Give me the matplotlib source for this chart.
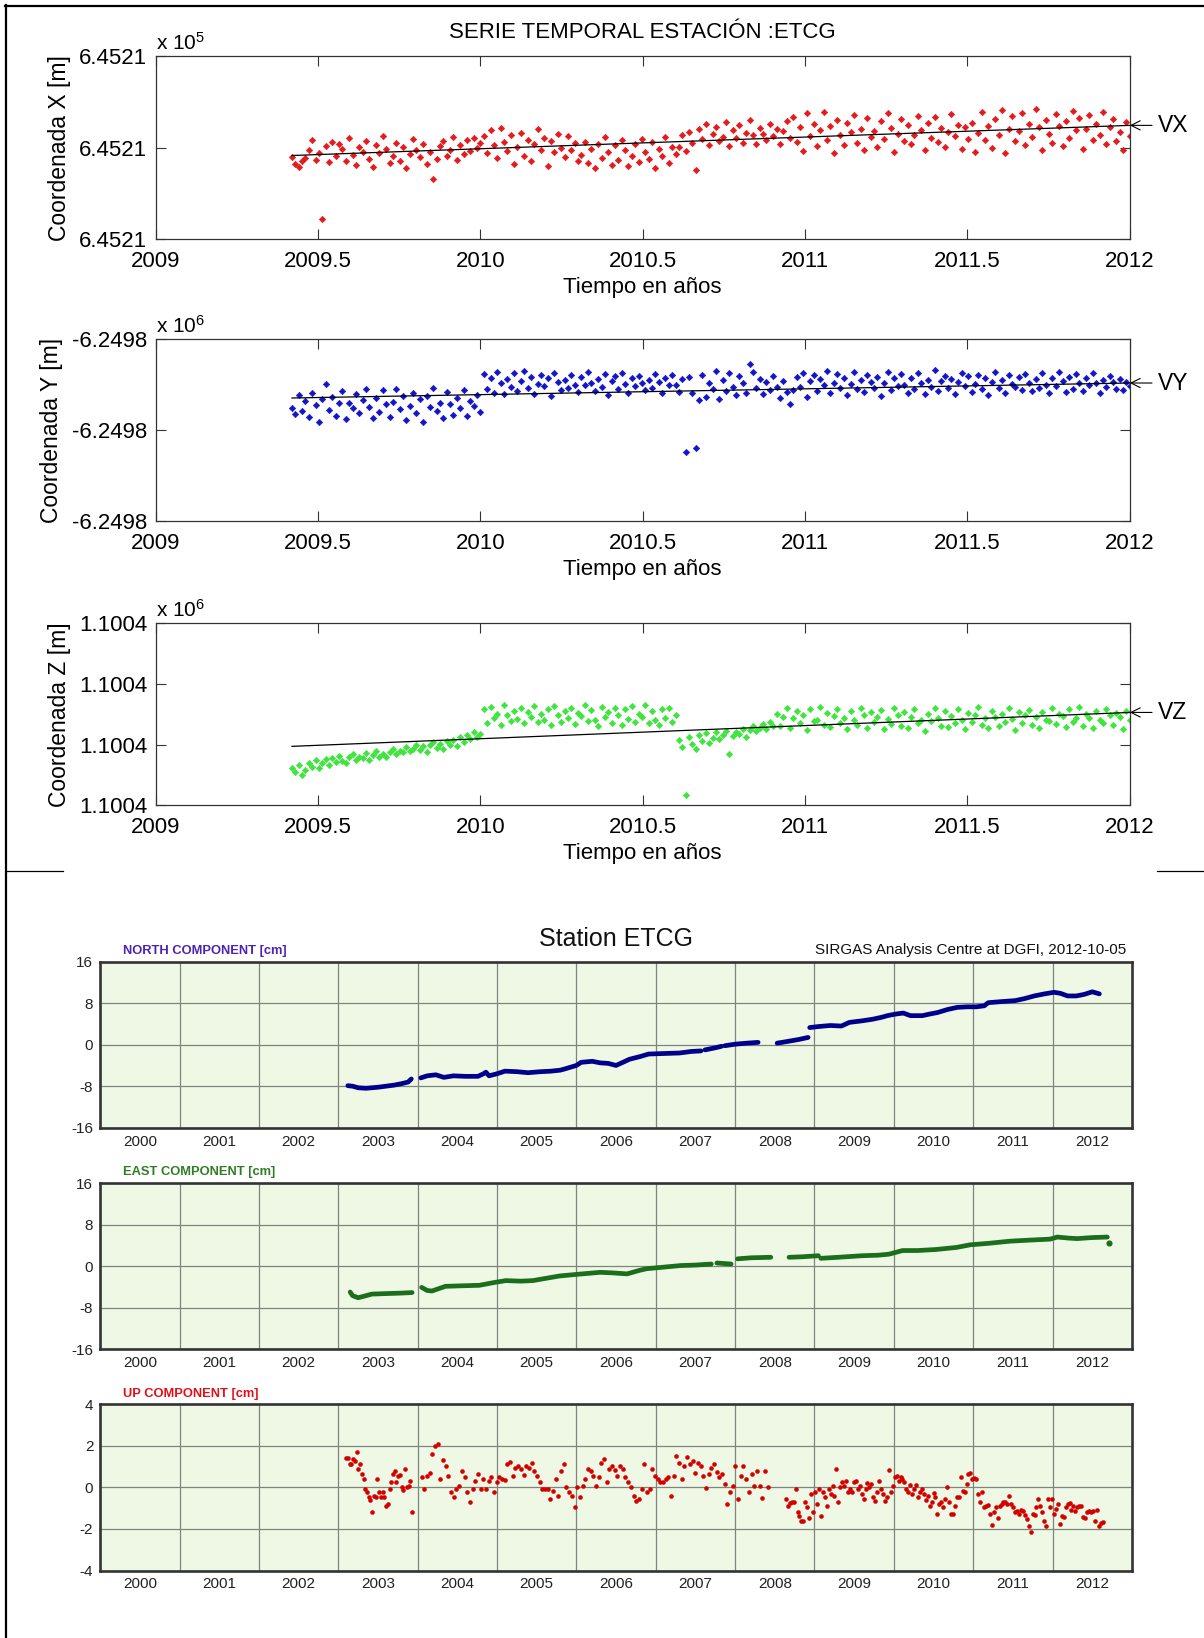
import numpy as np
import matplotlib
matplotlib.use('Agg')
import matplotlib.pyplot as plt
from matplotlib.lines import Line2D

plt.rcParams['font.family'] = ['Liberation Sans', 'DejaVu Sans']
plt.rcParams['mathtext.fontset'] = 'custom'
plt.rcParams['mathtext.rm'] = 'Liberation Sans'
plt.rcParams['mathtext.it'] = 'Liberation Sans:italic'
plt.rcParams['mathtext.bf'] = 'Liberation Sans:bold'

# ----------------------------------------------------------------- DATA
# Top (MATLAB) panels: daily coordinates 2009.42 - 2012.0, offsets from the
# central tick value (units of the plotted scale)
top_span = (2009.42, 2012.0)
top_xticks = [2009, 2009.5, 2010, 2010.5, 2011, 2011.5, 2012]
top_xticklabels = ['2009', '2009.5', '2010', '2010.5', '2011', '2011.5', '2012']

coordX_2009 = [-2.0, -3.5, -4.3, -3.0, -2.2,
               -0.5, 1.8, -2.6, -1.2, -15.7, 0.4, -3.1, 1.2, -1.8, 0.9, -0.3, -2.9, 2.2,
               -1.5, -3.8, 0.2, -0.9, 1.5, -2.4, -4.2, 0.6, -1.1, 2.6, -0.2, -3.3, -1.7,
               1.0, -2.8, 0.1, -4.5, -1.3, 1.9, -0.6, -2.1, 0.8, -3.6, -1.0, -6.9, -2.5,
               0.3, 1.4, -1.9, -0.4, 2.3, -2.7, 0.5, -1.4, 1.6, -0.8, 2.1, -0.1, 1.1]
coordX_2010 = [2.5, -1.2, 3.8, 0.6, -2.3, 4.4, 1.3, -0.8, 2.9, -3.5, 0.2, 3.3, -1.7, 1.8,
               -2.8, 0.9, 4.0, -0.4, 2.2, -3.9, 1.5, -1.0, 3.1, 0.0, -2.1, 2.6, -0.6, 1.1, -3.0,
               -1.5, 1.2, -3.4, -0.2, -4.4, 0.8, -2.2, 2.3, -1.0, -3.8, 0.5, -2.7, 1.6, -0.5,
               -4.1, -1.8, 0.9, -3.1, 2.0, -0.9, -2.5, 1.3, -4.5, -0.3, -1.9, 2.4, -3.3, 0.1, -1.3,
               0.2, 2.8, -0.8, 3.5, 1.1, -4.8, 4.2, 2.0, 5.1, 0.6, 3.0, 4.6, 1.5, 2.4, 5.6, 0.3,
               3.8, 2.2, 4.9, 1.0, 3.3, 6.0, 2.7, 0.8, 4.4, 3.1, 1.7, 5.3, 2.5, 4.0, 0.9, 3.6, 5.8, 2.1]
coordX_2011 = [6.8, 1.2, 4.5, -0.8, 7.5, 2.6, 5.2, 0.3, 3.9, 7.9, 1.8, 4.8, -1.2, 6.1, 2.9,
               0.6, 5.5, 3.4, 7.2, 1.0, 4.1, -0.4, 6.5, 2.3, 3.7, 0.1, 5.9, 2.0, 7.7, 4.4,
               -1.0, 3.1, 6.3, 1.5, 4.9, 0.8, 2.7, 7.0, 3.8, -0.6, 5.4, 2.2, 6.8, 1.3, 4.3,
               0.2, 3.5, 7.4, 2.5, 5.0, -0.2, 4.6, 1.9,
               5.5, -0.9, 3.2, 7.8, 1.6, 4.7, 0.0, 6.4, 2.8, 8.2, -1.1, 4.0, 6.9, 1.4, 3.6,
               7.6, 0.5, 5.1, 2.4, 8.4, 4.5, -0.5, 6.1, 3.0, 1.1, 7.3, 4.8, 0.4, 5.8, 2.1,
               8.0, 3.9, 6.6, -0.3, 4.2, 7.1, 1.8, 5.3, 2.9, 7.9, 0.9, 4.6, 6.3, 1.5, 3.4, -0.6, 5.7, 2.6]
fitX = [-1.7, 4.9]

coordY_2009 = [5.0, 3.5, 7.8, 4.2, 6.5, 2.9, 8.3, 5.6, 1.8, 6.9, 10.2, 4.4, 7.4, 3.2, 5.9,
               8.6, 2.4, 6.1, 4.8, 7.9, 3.7, 6.6, 9.0, 5.2, 2.7, 7.1, 4.0, 8.8, 5.7, 3.0,
               6.3, 9.1, 4.6, 7.5, 2.2, 5.4, 8.1, 3.9, 6.8, 1.9, 7.6, 5.1, 9.4, 4.3, 6.0,
               2.6, 8.4, 5.8, 3.4, 7.2, 4.9, 8.9, 3.1, 6.4, 5.3, 7.7, 4.1]
coordY_2010 = [12.4, 9.1, 11.6, 8.2, 12.9, 10.3, 7.9, 11.2, 9.6, 12.5, 8.7, 10.9, 13.0, 9.4,
               11.8, 8.0, 10.1, 12.2, 9.8, 11.4, 7.6, 12.7, 10.6, 8.9, 11.0, 9.2, 12.1, 10.0,
               8.4, 11.7, 9.9, 12.8, 10.5, 8.6, 11.3, 9.5, 12.3, 7.8, 10.8, 11.9, 9.0, 12.6,
               10.2, 8.3, 11.5, 9.7, 12.0, 10.4, 8.8, 11.1, 9.3, 12.4, 10.7, 8.1, 11.6, 9.9,
               12.2, 10.0, 8.5, 11.2,
               -4.7, 11.8, 8.2, -3.8, 6.6, 12.2, 7.4, 10.3, 9.0, 13.1, 6.9, 11.0, 8.7, 12.5,
               9.6, 7.7, 11.9, 10.4, 8.3, 14.6, 12.8, 9.2, 11.3, 7.9, 10.6, 8.8, 12.0, 9.5,
               7.2, 10.9, 8.5, 5.8]
coordY_2011 = [8.9, 11.7, 9.6, 12.6, 7.4, 10.8, 12.1, 8.6, 11.2, 9.9, 13.0, 8.1, 10.5, 12.4,
               9.3, 11.5, 7.8, 10.1, 12.8, 9.0, 11.0, 8.4, 12.2, 10.6, 9.4, 11.8, 7.6, 10.3,
               12.9, 8.8, 11.4, 9.7, 12.3, 10.0, 8.2, 11.6, 9.1, 12.7, 10.4, 7.9, 11.1, 9.5,
               13.2, 8.7, 10.9, 12.0, 9.2, 11.3, 8.0, 10.7, 12.5, 9.8, 11.9, 8.5, 10.2, 12.2,
               9.0, 11.5, 7.7, 10.6, 12.8, 9.4, 11.0, 8.3, 12.1, 10.1, 9.6, 11.7, 8.9, 12.4,
               10.5, 8.6, 11.2, 9.3, 12.6, 10.0, 8.1, 11.4, 9.7, 12.9, 10.8, 8.4, 11.8, 9.1,
               12.3, 10.3, 8.7, 11.6, 9.9, 12.7, 10.4, 8.2, 11.1, 9.5, 12.0, 10.7, 9.0, 11.3,
               8.8, 10.6, 9.8]
fitY = [7.1, 10.4]

coordZ_2009 = [6.2, 5.4, 6.6, 5.0, 5.8, 6.9, 6.3, 7.4, 6.1, 7.0, 7.6, 6.6, 7.8, 7.1, 8.1,
               7.3, 6.9, 7.9, 8.4, 7.5, 8.0, 7.7, 8.6, 7.4, 8.2, 8.9, 8.0, 8.5, 7.9, 8.8,
               9.3, 8.4, 9.0, 8.7, 9.6, 8.9, 9.2, 10.0, 9.1, 9.7, 8.8, 9.9, 10.4, 9.5, 10.1,
               9.3, 10.6, 10.0, 10.8, 9.8, 11.2, 10.5, 11.6, 10.9, 12.1, 11.3, 11.8]
coordZ_2010 = [15.8, 13.6, 16.2, 14.4, 15.1, 13.2, 16.5, 14.8, 13.9, 15.6, 14.2, 16.0, 13.5,
               15.3, 14.6, 16.4, 13.8, 15.0, 14.1, 15.9, 13.3, 16.3, 14.9, 13.7, 15.5, 14.3,
               16.1, 13.4, 15.2, 14.7, 16.6, 13.9, 15.7, 14.0, 13.1, 16.2, 14.5, 15.4, 13.6,
               16.0, 14.8, 13.3, 15.8, 14.2, 16.4, 13.7, 15.1, 14.6, 16.5, 13.5, 15.6, 14.0,
               13.2, 15.9, 14.4, 16.1, 13.8, 14.9,
               10.8, 9.6, 1.6, 11.2, 10.1, 9.3, 11.5, 10.6, 11.9, 10.3, 11.1, 12.0, 10.9, 11.6,
               12.3, 8.4, 11.4, 12.1, 11.8, 12.6, 11.3, 12.4, 13.0, 12.2, 12.8, 13.4, 12.5,
               13.7, 13.1]
coordZ_2011 = [15.0, 13.1, 14.6, 16.0, 12.8, 14.3, 15.5, 13.6, 14.9, 12.4, 15.8, 13.9, 14.1,
               16.2, 13.3, 15.2, 12.9, 14.7, 15.9, 13.5, 14.4, 12.6, 15.6, 14.0, 13.2, 16.1,
               14.8, 12.7, 15.3, 13.8, 14.5, 15.7, 12.5, 14.2, 13.4, 16.0, 14.9, 13.0, 15.4,
               12.8, 14.6, 15.8, 13.6, 14.1, 12.3, 15.1, 13.9, 16.1, 14.4, 13.1, 15.5, 12.9,
               14.7, 13.5, 15.9, 14.0, 12.6, 15.2, 13.7, 14.8, 16.2, 13.3, 14.3, 12.8, 15.6,
               14.5, 13.0, 15.0, 13.8, 16.0, 14.2, 12.4, 15.4, 13.6, 14.9, 15.7, 13.2, 14.6,
               12.7, 15.3, 14.1, 13.9, 16.1, 13.4, 15.1, 14.7, 12.9, 15.8, 13.7, 14.4, 16.2,
               13.1, 15.0, 14.3, 12.8, 15.5, 14.0, 13.5, 15.9, 14.8, 13.3, 15.2, 14.5, 12.6,
               15.6, 14.1]
fitZ = [9.7, 15.3]

# Bottom (DGFI) panels, weekly solutions [cm]
dgfi_years = [2000, 2001, 2002, 2003, 2004, 2005, 2006, 2007, 2008, 2009, 2010, 2011, 2012]
dgfi_grid = [2000.5, 2001.5, 2002.5, 2003.5, 2004.5, 2005.5, 2006.5, 2007.5, 2008.5,
             2009.5, 2010.5, 2011.5]

north_t = [[2002.62, 2002.68, 2002.75, 2002.85, 2003.00, 2003.10, 2003.20, 2003.30, 2003.38, 2003.42],
           [2003.54, 2003.62, 2003.73, 2003.83, 2003.95, 2004.10, 2004.26, 2004.33, 2004.36, 2004.40,
            2004.50, 2004.60, 2004.75, 2004.89, 2005.05, 2005.18, 2005.30, 2005.37, 2005.50, 2005.56,
            2005.70, 2005.80, 2005.90, 2006.00, 2006.10, 2006.17, 2006.30, 2006.41, 2006.60, 2006.80,
            2006.95, 2007.07],
           [2007.12, 2007.25, 2007.33],
           [2007.37, 2007.50, 2007.65, 2007.79],
           [2008.03, 2008.15, 2008.30, 2008.42],
           [2008.44, 2008.55, 2008.70, 2008.84, 2008.94, 2009.10, 2009.23, 2009.35, 2009.42, 2009.52,
            2009.62, 2009.71, 2009.86, 2009.95, 2010.05, 2010.18, 2010.30, 2010.42, 2010.54, 2010.64,
            2010.69, 2010.85, 2011.03, 2011.15, 2011.27, 2011.40, 2011.52, 2011.60, 2011.69, 2011.80,
            2011.90, 2012.00, 2012.09]]
north_v = [[-7.9, -8.0, -8.3, -8.4, -8.2, -8.0, -7.8, -7.5, -7.2, -6.6],
           [-6.4, -6.0, -5.8, -6.3, -6.0, -6.1, -6.1, -5.6, -5.3, -6.0, -5.6, -5.1, -5.2, -5.4,
            -5.2, -5.1, -4.9, -4.6, -4.0, -3.4, -3.2, -3.5, -3.6, -4.0, -3.3, -2.8, -2.3, -1.8,
            -1.7, -1.6, -1.3, -1.2],
           [-1.0, -0.6, -0.3],
           [-0.2, 0.1, 0.3, 0.45],
           [0.3, 0.6, 1.0, 1.4],
           [3.3, 3.5, 3.7, 3.6, 4.3, 4.6, 4.9, 5.3, 5.6, 5.9, 6.1, 5.6, 5.6, 5.9, 6.2, 6.8, 7.2,
            7.3, 7.3, 7.5, 8.1, 8.3, 8.5, 8.9, 9.4, 9.8, 10.1, 9.9, 9.4, 9.4, 9.7, 10.2, 9.8]]

east_t = [[2002.65, 2002.68, 2002.75, 2002.85, 2002.92, 2003.10, 2003.30, 2003.43],
          [2003.55, 2003.62, 2003.68, 2003.85, 2004.05, 2004.28, 2004.45, 2004.61, 2004.80, 2004.95,
           2005.10, 2005.29, 2005.50, 2005.80, 2005.95, 2006.14, 2006.30, 2006.39, 2006.60, 2006.81,
           2007.00, 2007.20],
          [2007.27, 2007.36, 2007.45],
          [2007.53, 2007.70, 2007.95],
          [2008.18, 2008.35, 2008.55],
          [2008.58, 2008.80, 2009.10, 2009.30, 2009.44, 2009.61, 2009.80, 2010.03, 2010.29, 2010.46,
           2010.70, 2010.96, 2011.20, 2011.47, 2011.56, 2011.70, 2011.81, 2012.00, 2012.19],
          [2012.21]]
east_v = [[-5.0, -5.7, -6.1, -5.7, -5.4, -5.3, -5.2, -5.1],
          [-4.1, -4.7, -4.8, -3.9, -3.8, -3.7, -3.2, -2.8, -2.9, -2.8, -2.4, -1.9, -1.6, -1.2,
           -1.3, -1.5, -0.8, -0.5, -0.2, 0.1, 0.2, 0.4],
          [0.6, 0.5, 0.4],
          [1.4, 1.6, 1.7],
          [1.7, 1.8, 2.0],
          [1.5, 1.7, 2.0, 2.1, 2.3, 3.0, 3.0, 3.2, 3.6, 4.1, 4.4, 4.8, 5.0, 5.2, 5.6, 5.4, 5.3,
           5.5, 5.6],
          [4.5]]

up_spans = [(2002.60, 2003.43), (2003.55, 2007.91), (2008.14, 2012.13)]
up_seg1 = [1.44, 1.44, 1.12, 1.12, 1.36, 1.25, 1.71, 0.91, 1.12, 0.64, 0.40, -0.08, -0.21,
           -0.48, -0.59, -1.20, -0.40, -0.48, 0.40, -0.21, -0.48, -0.21, -0.48, -0.88, -0.80,
           -0.08, 0.24, 0.64, 0.80, 0.24, 0.53, 0.61, 0.00, -0.11, 0.91, 0.00, 0.08, 0.32, -1.20]
up_seg2 = [0.48, -0.08, 0.53, 0.72, 1.60, 2.00, 2.08, 0.40, 1.31, 1.04, 0.56, -0.24, -0.48,
           -0.08, 0.08, 0.80, 0.48, -0.24, -0.69, -0.08, 0.32, 0.64, -0.08, 0.40, -0.08, 0.32,
           0.48, -0.21, 0.24, 0.48, 0.43, 0.37, 1.12, 1.23, 0.53, 0.96, 1.01, 0.88, 0.59, 1.04,
           0.96, 1.20, 0.80, 0.56, 0.24, -0.08, -0.08, -0.08, -0.56, -0.16, 0.40, -0.40, 0.80,
           1.12, 0.00, -0.24, -0.40, -0.96, 0.00, -0.48, 0.08, 0.40, 0.88, 0.80, 0.53, 0.08,
           0.48, 1.20, 1.36, 0.24, 0.91, 1.04, 0.83, 0.56, 1.01, 0.88, 0.48, 0.24, 0.00, -0.40,
           -0.64, -0.56, -0.08, 1.12, -0.21, -0.08, 0.88, 0.53, 0.40, 0.24, 0.24, 0.40, 0.48,
           -0.40, 0.53, 1.52, 1.20, 0.40, 1.04, 1.49, 1.12, 1.28, 0.72, 1.17, 1.01, 0.53, -0.05,
           0.64, 0.96, 1.12, 0.75, 0.48, 0.64, 0.19, -0.80, -0.24, 0.08, 1.01, -0.56, 0.53,
           1.04, 0.40, -0.21, 0.64, 0.08, 0.80, 0.08, -0.53, 0.80, 0.00]
up_seg3 = [-0.56, -0.88, -0.75, -0.72, -0.69, -0.08, -1.20, -1.36, -1.60, -1.60, -0.69, -0.96,
           -1.49, -0.32, -1.20, -0.24, -0.80, -0.08, -1.36, -0.24, -0.48, -0.88, -0.08, -0.32,
           0.08, -0.40, 0.91, -0.69, 0.00, 0.24, 0.08, 0.32, -0.24, -0.08, -0.24, 0.24, 0.32,
           -0.08, 0.08, -0.32, -0.56, -0.08, 0.21, 0.00, 0.16, -0.48, -0.64, -0.24, 0.32, -0.08,
           -0.32, -0.64, -0.48, 0.85, -0.24, 0.08, 0.48, 0.56, 0.32, 0.48, 0.40, 0.24, -0.08,
           -0.24, 0.11, -0.32, -0.08, 0.11, -0.48, -0.24, -0.08, -0.32, -0.59, -0.40, -0.91,
           -0.72, -0.27, -0.48, -1.28, -0.80, -0.69, -0.96, -0.56, 0.00, -0.72, -1.28, -1.28,
           -0.88, -0.48, -0.48, 0.48, -0.16, -0.24, 0.16, 0.67, 0.72, 0.40, 0.45, 0.40, -0.32,
           -0.72, -0.24, -0.96, -0.88, -0.85, -1.28, -1.81, -1.20, -0.96, -1.49, -0.88, -0.80,
           -0.69, -0.72, -0.80, -0.40, -0.80, -0.96, -1.20, -1.12, -1.28, -1.07, -1.12, -1.33,
           -1.52, -1.84, -2.13, -1.28, -1.33, -0.96, -0.56, -0.88, -1.20, -1.60, -1.87, -0.56,
           -0.96, -0.56, -1.28, -1.04, -0.80, -1.76, -1.36, -1.44, -0.96, -0.80, -0.75, -1.07,
           -0.88, -1.12, -0.96, -0.91, -0.88, -1.44, -1.49, -1.20, -1.12, -1.17, -1.12, -1.60,
           -1.07, -1.84, -1.71, -1.68]

# ----------------------------------------------------------------- FIGURE
W, H = 1204, 1638
fig = plt.figure(figsize=(W / 100, H / 100), dpi=100)
fig.patch.set_facecolor('white')


def rect(l, t, r, b):
    return [l / W, 1 - b / H, (r - l) / W, (b - t) / H]


def fx(x):
    return x / W


def fy(y):
    return 1 - y / H


# ---------------- top MATLAB-like panels
top_panels = [
    dict(top=56.4, bottom=239.1, vals=coordX_2009 + coordX_2010 + coordX_2011, fit=fitX,
         color='#e41a1c', ylim=(-20, 20), yticks=[-20, 0, 20], ytl='6.4521',
         ylabel='Coordenada X [m]', ylab_x=59.5, exp='5', tag='VX'),
    dict(top=339.4, bottom=521.1, vals=coordY_2009 + coordY_2010 + coordY_2011, fit=fitY,
         color='#1414c8', ylim=(-20, 20), yticks=[-20, 0, 20], ytl='-6.2498',
         ylabel='Coordenada Y [m]', ylab_x=52.0, exp='6', tag='VY'),
    dict(top=623.4, bottom=805.1, vals=coordZ_2009 + coordZ_2010 + coordZ_2011, fit=fitZ,
         color='#3fe43f', ylim=(0, 30), yticks=[0, 10, 20, 30], ytl='1.1004',
         ylabel='Coordenada Z [m]', ylab_x=59.5, exp='6', tag='VZ'),
]

L_TOP, R_TOP = 155.6, 1129.8
for p in top_panels:
    ax = fig.add_axes(rect(L_TOP, p['top'], R_TOP, p['bottom']))
    t = np.linspace(top_span[0], top_span[1], len(p['vals']))
    ax.plot(t, p['vals'], linestyle='none', marker='D', ms=3.3, mew=0.4,
            color=p['color'], mec=p['color'])
    ax.plot(list(top_span), p['fit'], color='black', lw=0.9)
    ax.set_xlim(2009, 2012)
    ax.set_ylim(*p['ylim'])
    ax.set_xticks(top_xticks)
    ax.set_xticklabels(top_xticklabels, fontsize=16)
    ax.set_yticks(p['yticks'])
    ax.set_yticklabels([p['ytl']] * len(p['yticks']), fontsize=16)
    ax.tick_params(direction='in', length=7, width=0.8, color='#333333',
                   top=True, right=True, labelcolor='black')
    ax.tick_params(axis='x', pad=8.5)
    ax.tick_params(axis='y', pad=6)
    for s in ax.spines.values():
        s.set_color('#333333')
        s.set_linewidth(0.9)
    ax.annotate(p['tag'], xy=(2012, p['fit'][1]), xycoords='data',
                xytext=(20, 0), textcoords='offset points', va='center', ha='left',
                fontsize=16.5,
                arrowprops=dict(arrowstyle='->', color='black', lw=0.8,
                                shrinkA=2, shrinkB=0),
                annotation_clip=False)
    # exponent label
    fig.text(fx(L_TOP), fy(p['top'] - 7), 'x 10$^{%s}$' % p['exp'], fontsize=15,
             ha='left', va='baseline')
    # x label
    fig.text(fx(642), fy(p['bottom'] + 48), 'Tiempo en años', fontsize=16,
             ha='center', va='center')
    # y label
    fig.text(fx(p['ylab_x']), fy((p['top'] + p['bottom']) / 2), p['ylabel'],
             fontsize=16.5, rotation=90, ha='center', va='center')

fig.text(fx(642), fy(33), 'SERIE TEMPORAL ESTACIÓN :ETCG', fontsize=16,
         ha='center', va='center')

# frame lines of the composed image
fig.add_artist(Line2D([fx(5.7), fx(5.7)], [fy(5), 0], transform=fig.transFigure,
                      color='black', lw=1.6))
fig.add_artist(Line2D([fx(5), 1], [fy(6), fy(6)], transform=fig.transFigure,
                      color='black', lw=1.6))
fig.add_artist(Line2D([fx(5.7), fx(63)], [fy(870.5), fy(870.5)], transform=fig.transFigure,
                      color='black', lw=0.9))
fig.add_artist(Line2D([fx(1157), 1], [fy(870.5), fy(870.5)], transform=fig.transFigure,
                      color='black', lw=0.9))

# ---------------- bottom DGFI-like panels
L_BOT, R_BOT = 100.2, 1131.9
bot_panels = [
    dict(top=961.7, bottom=1127.7, kind='line', t=north_t, v=north_v, color='#00008b',
         ylim=(-16, 16), yticks=[-16, -8, 0, 8, 16], title='NORTH COMPONENT [cm]',
         tcolor='#4b22b4', title_y=951),
    dict(top=1183.1, bottom=1349.1, kind='line', t=east_t, v=east_v, color='#1b6e1b',
         ylim=(-16, 16), yticks=[-16, -8, 0, 8, 16], title='EAST COMPONENT [cm]',
         tcolor='#2f7d22', title_y=1172.5),
    dict(top=1404.4, bottom=1570.5, kind='dots', color='#d40000',
         ylim=(-4, 4), yticks=[-4, -2, 0, 2, 4], title='UP COMPONENT [cm]',
         tcolor='#e0101a', title_y=1394),
]

for p in bot_panels:
    ax = fig.add_axes(rect(L_BOT, p['top'], R_BOT, p['bottom']))
    ax.set_facecolor('#eff8e5')
    ax.set_xlim(1999.5, 2012.5)
    ax.set_ylim(*p['ylim'])
    ax.set_xticks(dgfi_years)
    ax.set_xticklabels([str(y) for y in dgfi_years], fontsize=11, color='#222222')
    ax.set_xticks(dgfi_grid, minor=True)
    ax.set_yticks(p['yticks'])
    ax.set_yticklabels([str(y) for y in p['yticks']], fontsize=11, color='#222222')
    ax.tick_params(which='both', length=0)
    ax.tick_params(axis='x', pad=5)
    ax.tick_params(axis='y', pad=5)
    ax.xaxis.grid(True, which='minor', color='#7d867d', lw=0.9)
    ax.yaxis.grid(True, which='major', color='#7d867d', lw=0.9)
    ax.set_axisbelow(True)
    for s in ax.spines.values():
        s.set_color('#333333')
        s.set_linewidth(1.9)
    if p['kind'] == 'line':
        for tt, vv in zip(p['t'], p['v']):
            if len(tt) == 1:
                ax.plot(tt, vv, 'o', ms=3.4, color=p['color'])
            else:
                ax.plot(tt, vv, '-', lw=3.4, color=p['color'], solid_capstyle='round',
                        solid_joinstyle='round')
    else:
        for (a, b), seg in zip(up_spans, [up_seg1, up_seg2, up_seg3]):
            tt = np.linspace(a, b, len(seg))
            ax.plot(tt, seg, 'o', ms=3.3, color=p['color'], mew=0)
    fig.text(fx(123), fy(p['title_y']), p['title'], fontsize=9.3, fontweight='bold',
             color=p['tcolor'], ha='left', va='center')

fig.text(fx(616), fy(939), 'Station ETCG', fontsize=18, ha='center', va='center',
         color='#111111')
fig.text(fx(1125.8), fy(950), 'SIRGAS Analysis Centre at DGFI, 2012-10-05', fontsize=11,
         ha='right', va='center', color='#111111')

fig.savefig('out.png', dpi=100, facecolor='white')
